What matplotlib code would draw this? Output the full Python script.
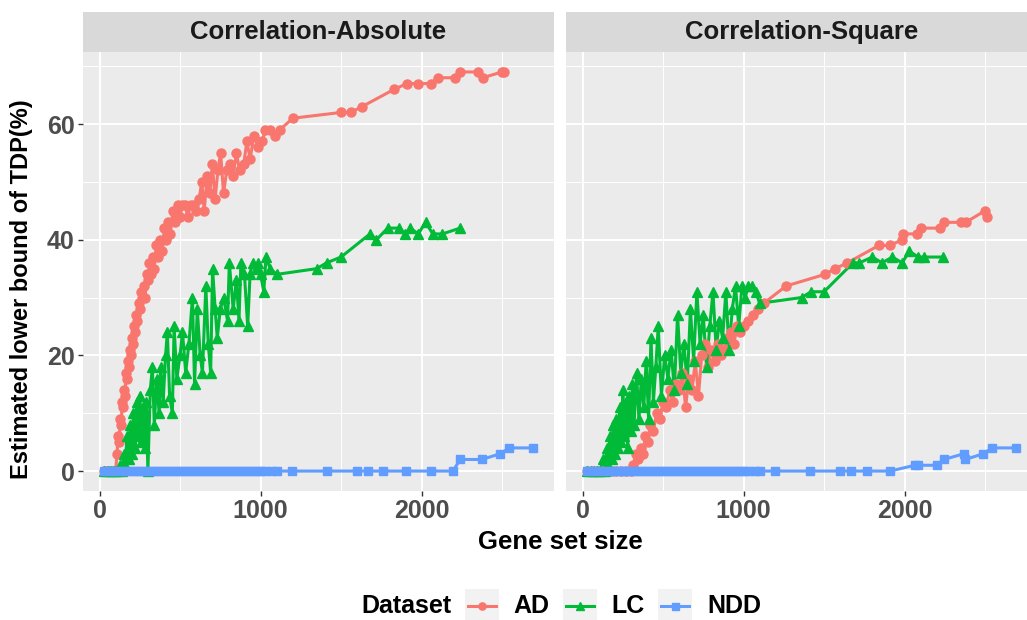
import matplotlib
matplotlib.use("Agg")
import matplotlib.pyplot as plt
from matplotlib.lines import Line2D
from matplotlib.patches import Rectangle

plt.rcParams["font.family"] = ["Liberation Sans", "DejaVu Sans"]
plt.rcParams["font.weight"] = "bold"

# ---- data ----
panels = ["Correlation-Absolute", "Correlation-Square"]
datasets = ["AD", "LC", "NDD"]

ad_abs_x = [30, 45, 60, 75, 90, 100, 108, 115, 122, 128, 135, 140, 146, 152, 158, 165, 170, 176, 182,
            188, 195, 200, 207, 213, 220, 228, 235, 243, 250, 258, 266, 275, 283, 292, 300, 310, 320,
            330, 340, 352, 365, 378, 390, 402, 415, 428, 440, 455, 470, 485, 500, 515, 530, 548, 565,
            585, 600, 618, 635, 650, 668, 685, 700, 718, 735, 752, 770, 790, 810, 830, 850, 870, 895,
            915, 935, 960, 985, 1010, 1030, 1060, 1090, 1120, 1200, 1500, 1560, 1630, 1830, 1910, 1980,
            2060, 2100, 2210, 2240, 2350, 2380, 2500, 2510]
ad_abs_y = [0, 0, 0, 0, 0, 0, 3, 6, 5, 9, 8, 12, 11, 14, 13, 17, 16, 19, 18,
            21, 20, 23, 22, 25, 24, 27, 26, 29, 28, 31, 30, 32, 30, 34, 33, 36, 34,
            37, 35, 39, 37, 40, 38, 42, 40, 43, 41, 45, 43, 46, 44, 46, 46, 44, 46,
            46, 45, 47, 50, 45, 51, 48, 53, 47, 52, 55, 48, 52, 53, 51, 55, 52, 53,
            57, 54, 58, 56, 57, 59, 59, 58, 59, 61, 62, 62, 63, 66, 67, 67,
            67, 68, 68, 69, 69, 68, 69, 69]

lc_abs_x = [30, 50, 70, 90, 110, 125, 140, 150, 160, 170, 180, 190, 200, 210, 220, 230, 240, 250,
            260, 270, 280, 290, 300, 315, 328, 340, 355, 370, 380, 395, 410, 421, 435, 452, 463, 480,
            500, 515, 535, 555, 577, 590, 607, 625, 639, 660, 675, 690, 702, 718, 731, 750, 770, 795,
            806, 830, 850, 866, 878, 900, 920, 935, 950, 970, 985, 1000, 1020, 1034, 1060, 1100, 1350,
            1410, 1500, 1680, 1720, 1790, 1860, 1900, 1930, 1980, 2025, 2070, 2130, 2240]
lc_abs_y = [0, 0, 0, 0, 0, 1, 0, 3, 1, 6, 2, 8, 3, 10, 4, 12, 6, 13,
            5, 11, 4, 12, 0, 14, 18, 8, 16, 10, 18, 12, 20, 24, 13, 10, 25, 16,
            20, 24, 17, 22, 30, 15, 28, 20, 17, 32, 22, 17, 35, 28, 23, 28, 30, 26,
            36, 28, 33, 26, 36, 34, 25, 34, 36, 35, 36, 34, 31, 37, 35, 34, 35,
            36, 37, 41, 40, 42, 42, 41, 42, 41, 43, 41, 41, 42]

ndd_abs_x = [30, 55, 80, 105, 130, 155, 180, 205, 230, 255, 280, 305, 330, 355, 380, 405, 430, 455,
             480, 505, 530, 555, 580, 605, 630, 655, 680, 705, 730, 755, 780, 805, 830, 855, 880, 905,
             930, 955, 980, 1005, 1030, 1070, 1105, 1195, 1410, 1600, 1670, 1760, 1905, 2060, 2195,
             2240, 2375, 2490, 2545, 2690]
ndd_abs_y = [0, 0, 0, 0, 0, 0, 0, 0, 0, 0, 0, 0, 0, 0, 0, 0, 0, 0,
             0, 0, 0, 0, 0, 0, 0, 0, 0, 0, 0, 0, 0, 0, 0, 0, 0, 0,
             0, 0, 0, 0, 0, 0, 0, 0, 0, 0, 0, 0, 0, 0, 0,
             2, 2, 3, 4, 4]

ad_sq_x = [30, 60, 90, 120, 150, 180, 210, 240, 270, 300, 315, 330, 345, 360, 375, 390, 405, 420,
           440, 460, 480, 500, 520, 540, 560, 580, 600, 620, 640, 660, 680, 700, 720, 740, 760, 780,
           800, 820, 840, 860, 880, 900, 920, 940, 960, 980, 1000, 1030, 1060, 1090, 1125, 1265, 1505,
           1570, 1645, 1840, 1910, 1985, 1990, 2075, 2100, 2220, 2245, 2350, 2380, 2500, 2510]
ad_sq_y = [0, 0, 0, 0, 0, 0, 0, 0, 0, 0, 1, 3, 2, 4, 3, 6, 5, 8,
           7, 10, 9, 12, 11, 14, 12, 15, 14, 17, 11, 16, 14, 19, 13, 20, 22, 18,
           21, 19, 22, 20, 21, 23, 24, 22, 25, 24, 25, 26, 27, 28, 29, 32, 34,
           35, 36, 39, 39, 40, 41, 41, 42, 42, 43, 43, 43, 45, 44]

lc_sq_x = [30, 50, 70, 90, 110, 125, 140, 150, 160, 170, 180, 190, 200, 210, 220, 230, 240, 250,
           260, 270, 280, 290, 300, 310, 320, 335, 350, 365, 380, 395, 410, 425, 440, 455, 470, 490,
           510, 530, 550, 570, 590, 610, 630, 650, 670, 690, 710, 730, 750, 770, 790, 810, 830, 850,
           870, 890, 910, 930, 950, 970, 990, 1010, 1030, 1050, 1075, 1100, 1360, 1420, 1500, 1680,
           1720, 1800, 1860, 1925, 1985, 2030, 2085, 2120, 2240]
lc_sq_y = [0, 0, 0, 0, 0, 2, 0, 4, 1, 6, 2, 8, 3, 9, 4, 11, 5, 14,
           6, 12, 4, 13, 7, 15, 8, 17, 9, 16, 11, 19, 9, 23, 12, 18, 25, 13,
           20, 16, 21, 14, 27, 17, 22, 15, 28, 19, 31, 22, 27, 18, 25, 31, 21, 26,
           23, 31, 21, 28, 32, 25, 32, 30, 32, 32, 31, 29, 30, 31, 31, 36,
           36, 37, 36, 37, 36, 38, 37, 37, 37]

ndd_sq_x = [30, 55, 80, 105, 130, 155, 180, 205, 230, 255, 280, 305, 330, 355, 380, 405, 430, 455,
            480, 505, 530, 555, 580, 605, 630, 655, 680, 705, 730, 755, 780, 805, 830, 855, 880, 905,
            930, 955, 980, 1005, 1030, 1070, 1105, 1195, 1410, 1600, 1670, 1765, 1910, 2065, 2085,
            2200, 2245, 2370, 2378, 2490, 2545, 2690]
ndd_sq_y = [0, 0, 0, 0, 0, 0, 0, 0, 0, 0, 0, 0, 0, 0, 0, 0, 0, 0,
            0, 0, 0, 0, 0, 0, 0, 0, 0, 0, 0, 0, 0, 0, 0, 0, 0, 0,
            0, 0, 0, 0, 0, 0, 0, 0, 0, 0, 0, 0, 0, 1, 1,
            1, 2, 3, 2, 3, 4, 4]

series = {
    "Correlation-Absolute": [(ad_abs_x, ad_abs_y), (lc_abs_x, lc_abs_y), (ndd_abs_x, ndd_abs_y)],
    "Correlation-Square": [(ad_sq_x, ad_sq_y), (lc_sq_x, lc_sq_y), (ndd_sq_x, ndd_sq_y)],
}
colors = ["#F8766D", "#00BA38", "#619CFF"]
markers = ["o", "^", "s"]
msizes = [6.5, 7.5, 6.3]

# ---- layout (pixels) ----
W, H = 1027, 620
fig = plt.figure(figsize=(W / 100, H / 100), dpi=100)
fig.patch.set_facecolor("white")


def frac(x0, y0, w, h):
    return [x0 / W, 1 - (y0 + h) / H, w / W, h / H]


# ggplot-like 5% expansion on a shared scale
allx = [v for p in panels for sx, _ in series[p] for v in sx]
ally = [v for p in panels for _, sy in series[p] for v in sy]
xr, yr = max(allx) - min(allx), max(ally) - min(ally)
xlim = (min(allx) - 0.05 * xr, max(allx) + 0.05 * xr)
ylim = (min(ally) - 0.05 * yr, max(ally) + 0.05 * yr)

tick_col = "#4D4D4D"
lefts = [83, 566]
for i, p in enumerate(panels):
    ax = fig.add_axes(frac(lefts[i], 52, 471, 439))
    ax.set_facecolor("#EBEBEB")
    for s in ax.spines.values():
        s.set_visible(False)
    ax.set_xlim(*xlim); ax.set_ylim(*ylim)
    ax.set_xticks([0, 1000, 2000]); ax.set_xticks([500, 1500, 2500], minor=True)
    ax.set_yticks([0, 20, 40, 60]); ax.set_yticks([10, 30, 50, 70], minor=True)
    ax.grid(True, which="major", color="white", lw=1.4)
    ax.grid(True, which="minor", color="white", lw=0.7)
    ax.set_axisbelow(True)
    ax.tick_params(which="minor", length=0)
    ax.tick_params(which="major", length=3.5, width=1, color="#333333",
                   labelsize=18, labelcolor=tick_col, pad=2.5)
    for lab in ax.get_xticklabels() + ax.get_yticklabels():
        lab.set_fontweight("bold")
    if i > 0:
        ax.tick_params(axis="y", left=False, labelleft=False)
    for (sx, sy), c in zip(series[p], colors):
        ax.plot(sx, sy, color=c, lw=2.2, zorder=2)
    for (sx, sy), c, m, ms in zip(series[p], colors, markers, msizes):
        ax.plot(sx, sy, ls="none", marker=m, ms=ms, color=c, zorder=3)

    sax = fig.add_axes(frac(lefts[i], 12, 471, 40))
    sax.set_facecolor("#D9D9D9")
    sax.set_xticks([]); sax.set_yticks([])
    for s in sax.spines.values():
        s.set_visible(False)
    sax.text(0.5, 0.5, p, ha="center", va="center", fontsize=18.5, fontweight="bold",
             color="#1A1A1A", transform=sax.transAxes)

fig.text(22 / W, 1 - 289 / H, "Estimated lower bound of TDP(%)", rotation=90,
         ha="center", va="center", fontsize=17, fontweight="bold")
fig.text(560 / W, 1 - 542 / H, "Gene set size", ha="center", va="center",
         fontsize=18.5, fontweight="bold")

# ---- legend at the bottom ----
fig.text(361 / W, 1 - 606 / H, "Dataset", ha="left", va="center", fontsize=18, fontweight="bold")
key_x = [465, 563, 658]
lab_x = [513, 611, 707]
for kx, lx, lab, c, m, ms in zip(key_x, lab_x, datasets, colors, markers, msizes):
    fig.patches.append(Rectangle((kx / W, 1 - 623 / H), 34 / W, 34 / H, transform=fig.transFigure,
                                 facecolor="#F2F2F2", edgecolor="none"))
    fig.lines.append(Line2D([(kx + 3) / W, (kx + 31) / W], [1 - 606 / H] * 2, transform=fig.transFigure,
                            color=c, lw=2.2))
    fig.lines.append(Line2D([(kx + 17) / W], [1 - 606 / H], transform=fig.transFigure, ls="none",
                            marker=m, ms=ms * 0.8, color=c))
    fig.text(lx / W, 1 - 606 / H, lab, ha="left", va="center", fontsize=18, fontweight="bold")

fig.savefig("out.png", dpi=100)
